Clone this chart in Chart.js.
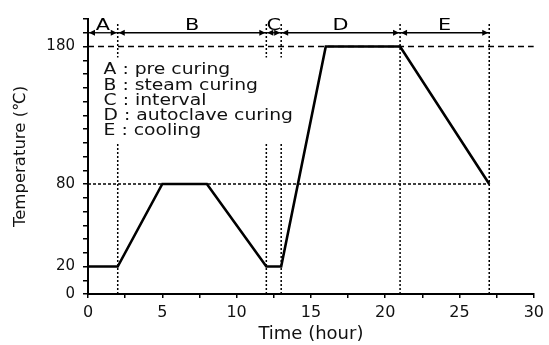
<!DOCTYPE html>
<html>
<head>
<meta charset="utf-8">
<script src="https://cdn.jsdelivr.net/npm/chart.js@4/dist/chart.umd.min.js"></script>
<style>
  html, body { margin: 0; padding: 0; background: #fff; }
  canvas { display: block; }
</style>
</head>
<body>
<canvas id="curingChart" width="549" height="345"></canvas>
<script>
// curing schedule: time (hour) vs temperature
const timeH = [0, 2, 5, 8, 12, 13, 16, 21, 27];
const tempC = [20, 20, 80, 80, 20, 20, 180, 180, 80];

// phases A..E and their boundaries on the time axis
const phaseNames = ['A', 'B', 'C', 'D', 'E'];
const phaseBounds = [0, 2, 12, 13, 21, 27];
const phaseDesc = ['pre curing', 'steam curing', 'interval', 'autoclave curing', 'cooling'];

// guide lines
const guideTimes = [2, 12, 13, 21, 27];
const guideTop = 197;
const arrowLevel = 190;
const maxTempLine = 180;
const steamTempLine = 80;

// labelled ticks
const xLabelTicks = [0, 5, 10, 15, 20, 25, 30];
const yLabelTicks = [0, 20, 80, 180];

const FONT = 'DejaVu Sans';

function guide(x0, y0, x1, y1, dash) {
    return {
        data: [{ x: x0, y: y0 }, { x: x1, y: y1 }],
        borderColor: '#000',
        borderWidth: 1.5,
        borderDash: dash,
        pointRadius: 0,
        order: 2
    };
}

const datasets = [{
    data: timeH.map((t, i) => ({ x: t, y: tempC[i] })),
    borderColor: '#000',
    borderWidth: 2.6,
    pointRadius: 0,
    tension: 0,
    order: 0
}];
datasets.push(guide(0, maxTempLine, 30, maxTempLine, [6, 4]));
datasets.push(guide(0, steamTempLine, phaseBounds[5], steamTempLine, [3, 2]));
guideTimes.forEach(t => datasets.push(guide(t, 0, t, guideTop, [2, 2])));

// stretched text helper (the figure uses a wide face)
function wideText(ctx, text, x, y, stretch, align) {
    ctx.save();
    ctx.translate(x, y);
    ctx.scale(stretch, 1);
    ctx.textAlign = align || 'left';
    ctx.fillText(text, 0, 0);
    ctx.restore();
}

function arrowHead(ctx, x, y, dir) {
    ctx.beginPath();
    ctx.moveTo(x, y);
    ctx.lineTo(x - dir * 6, y - 3);
    ctx.lineTo(x - dir * 6, y + 3);
    ctx.closePath();
    ctx.fill();
}

const phasePlugin = {
    id: 'phases',
    afterDatasetsDraw(chart) {
        const ctx = chart.ctx;
        const xs = chart.scales.x, ys = chart.scales.y;
        const ay = ys.getPixelForValue(arrowLevel);

        ctx.save();
        ctx.fillStyle = '#000';
        ctx.strokeStyle = '#000';
        ctx.lineWidth = 1.3;

        // double arrows for each phase
        for (let i = 0; i < phaseNames.length; i++) {
            const x0 = xs.getPixelForValue(phaseBounds[i]);
            const x1 = xs.getPixelForValue(phaseBounds[i + 1]);
            ctx.beginPath();
            ctx.moveTo(x0, ay);
            ctx.lineTo(x1, ay);
            ctx.stroke();
            arrowHead(ctx, x0 + 1, ay, -1);
            arrowHead(ctx, x1 - 1, ay, 1);

            ctx.font = '16px "' + FONT + '"';
            ctx.textBaseline = 'alphabetic';
            wideText(ctx, phaseNames[i], (x0 + x1) / 2, ay - 3, 1.3, 'center');
        }

        // legend block with white backing
        const left = xs.getPixelForValue(0.5);
        const right = xs.getPixelForValue(14);
        const top = ys.getPixelForValue(172);
        const bottom = ys.getPixelForValue(110);
        ctx.fillStyle = '#fff';
        ctx.fillRect(left, top, right - left, bottom - top);

        ctx.fillStyle = '#111';
        ctx.font = '15px "' + FONT + '"';
        ctx.textBaseline = 'middle';
        const tx = xs.getPixelForValue(1.05);
        phaseNames.forEach((n, i) => {
            wideText(ctx, n + ' : ' + phaseDesc[i], tx, top + 13 + i * 15.2, 1.25);
        });
        ctx.restore();
    }
};

new Chart(document.getElementById('curingChart'), {
    type: 'line',
    data: { datasets: datasets },
    options: {
        responsive: false,
        animation: false,
        devicePixelRatio: 1,
        layout: { padding: { top: 19, right: 14, left: 0, bottom: 0 } },
        plugins: {
            legend: { display: false },
            tooltip: { enabled: false }
        },
        scales: {
            x: {
                type: 'linear',
                min: 0,
                max: 30,
                afterFit: s => { s.height = 51; },
                border: { color: '#000', width: 2 },
                grid: { drawOnChartArea: false, drawTicks: true, tickLength: 4, color: '#000', lineWidth: 1.5 },
                ticks: {
                    stepSize: 2.5,
                    autoSkip: false,
                    maxRotation: 0,
                    padding: 5,
                    color: '#111',
                    font: { family: FONT, size: 16 },
                    callback: v => xLabelTicks.includes(v) ? String(v) : ''
                },
                title: {
                    display: true,
                    text: 'Time (hour)',
                    color: '#111',
                    font: { family: FONT, size: 18 },
                    padding: { top: 0, bottom: 0 }
                }
            },
            y: {
                min: 0,
                max: 200,
                afterFit: s => { s.width = 88; },
                border: { color: '#000', width: 2 },
                grid: { drawOnChartArea: false, drawTicks: true, tickLength: 5, color: '#000', lineWidth: 1.5 },
                ticks: {
                    stepSize: 10,
                    autoSkip: false,
                    padding: 8,
                    color: '#111',
                    font: { family: FONT, size: 15 },
                    callback: v => yLabelTicks.includes(v) ? String(v) : ''
                },
                title: {
                    display: true,
                    text: 'Temperature (℃)',
                    color: '#111',
                    font: { family: FONT, size: 16.5 },
                    padding: { top: 11, bottom: 0 }
                }
            }
        }
    },
    plugins: [phasePlugin]
});
</script>
</body>
</html>
